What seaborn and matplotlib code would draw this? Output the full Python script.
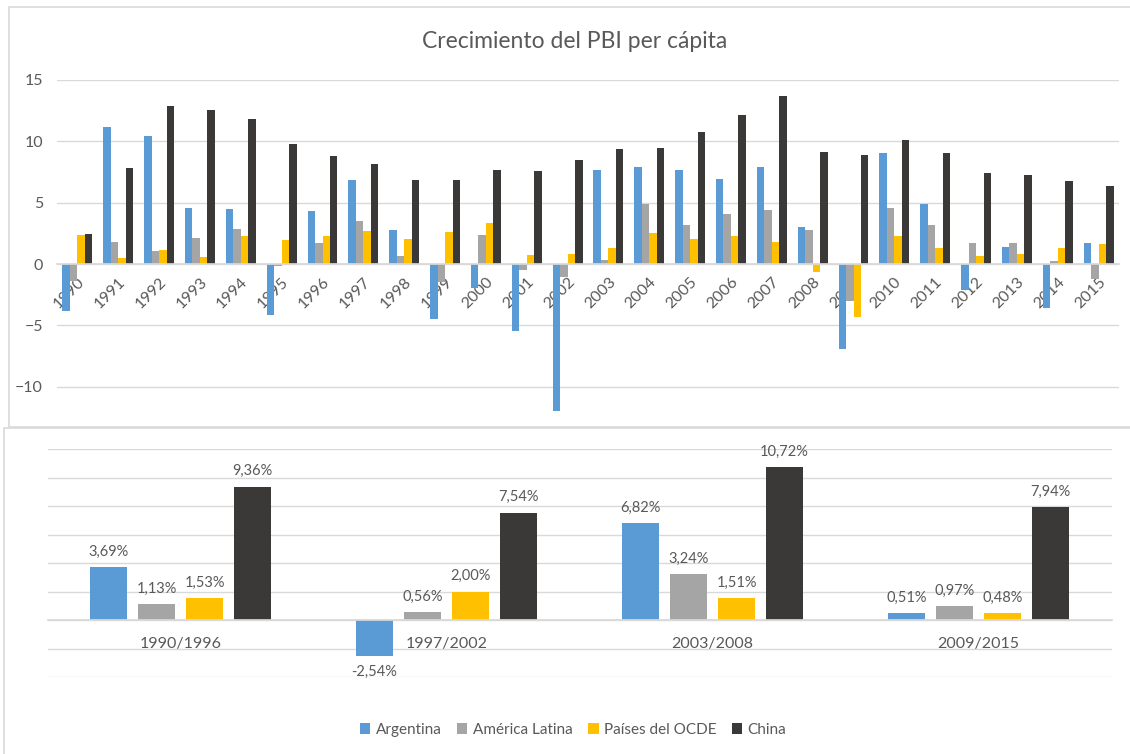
import pandas as pd
import matplotlib.pyplot as plt
import seaborn as sns
from matplotlib.patches import Rectangle

# datos: crecimiento anual del PBI per cápita (%)
anios = ["1990", "1991", "1992", "1993", "1994", "1995", "1996", "1997", "1998",
         "1999", "2000", "2001", "2002", "2003", "2004", "2005", "2006", "2007",
         "2008", "2009", "2010", "2011", "2012", "2013", "2014", "2015"]
series = ["Argentina", "América Latina", "Países del OCDE", "China"]
colores = ["#5B9BD5", "#A5A5A5", "#FFC000", "#3B3838"]

argentina = [-3.80, 11.17, 10.41, 4.56, 4.45, -4.12, 4.31, 6.89, 2.74, -4.48, -1.93, -5.48, -11.96,
             7.70, 7.87, 7.70, 6.97, 7.92, 3.04, -6.92, 9.06, 4.91, -2.12, 1.38, -3.61, 1.68]
america_latina = [-1.36, 1.82, 1.06, 2.12, 2.82, -0.14, 1.68, 3.47, 0.62, -1.44, 2.36, -0.49, -1.03,
                  0.33, 4.91, 3.17, 4.10, 4.39, 2.74, -2.98, 4.56, 3.20, 1.68, 1.68, 0.24, -1.25]
ocde = [2.36, 0.46, 1.14, 0.54, 2.28, 1.98, 2.28, 2.66, 2.03, 2.58, 3.34, 0.71, 0.84,
        1.30, 2.52, 2.03, 2.28, 1.82, -0.65, -4.29, 2.28, 1.30, 0.62, 0.79, 1.30, 1.60]
china = [2.44, 7.84, 12.88, 12.58, 11.85, 9.82, 8.81, 8.14, 6.89, 6.81, 7.70, 7.62, 8.46,
         9.36, 9.49, 10.79, 12.15, 13.67, 9.14, 8.90, 10.12, 9.06, 7.38, 7.24, 6.78, 6.40]

# promedios por período
periodos = ["1990/1996", "1997/2002", "2003/2008", "2009/2015"]
prom_argentina = [3.69, -2.54, 6.82, 0.51]
prom_america_latina = [1.13, 0.56, 3.24, 0.97]
prom_ocde = [1.53, 2.00, 1.51, 0.48]
prom_china = [9.36, 7.54, 10.72, 7.94]

anual = pd.DataFrame({
    "año": anios * 4,
    "serie": [s for s in series for _ in anios],
    "valor": argentina + america_latina + ocde + china,
})
prom_vals = [prom_argentina, prom_america_latina, prom_ocde, prom_china]
promedios = pd.DataFrame({
    "periodo": periodos * 4,
    "serie": [s for s in series for _ in periodos],
    "valor": sum(prom_vals, []),
})

sns.set_theme(style="white")
plt.rcParams["font.family"] = ["Lato", "DejaVu Sans"]
GRIS = "#595959"
GRID = "#D9D9D9"

W, H = 1130, 754
fig = plt.figure(figsize=(W / 100, H / 100), dpi=100)


def caja(x0, y0, x1, y1):
    return [x0 / W, 1 - y1 / H, (x1 - x0) / W, (y1 - y0) / H]


# =========================================================
# gráfico 1: crecimiento anual
# =========================================================
ax1 = fig.add_axes(caja(57, 80, 1119, 427))
sns.barplot(data=anual, x="año", y="valor", hue="serie", hue_order=series, palette=colores,
            saturation=1, width=0.734, errorbar=None, linewidth=0, legend=False, ax=ax1)
ax1.set_ylim(-13.28, 15)
ax1.set_yticks([-10, -5, 0, 5, 10, 15])
ax1.yaxis.grid(True, color=GRID, lw=1)
ax1.set_axisbelow(True)
for s in ["top", "right", "left"]:
    ax1.spines[s].set_visible(False)
ax1.spines["bottom"].set_position(("data", 0))
ax1.spines["bottom"].set_color(GRID)
ax1.tick_params(length=0, colors=GRIS, labelsize=11.5)
ax1.tick_params(axis="y", pad=10)
ax1.tick_params(axis="x", pad=8)
plt.setp(ax1.get_xticklabels(), rotation=45, ha="right", rotation_mode="anchor")
ax1.set_xlabel("")
ax1.set_ylabel("")

fig.text(575 / W, 1 - 42 / H, "Crecimiento del PBI per cápita", ha="center", va="center",
         fontsize=16.5, color=GRIS)

# =========================================================
# gráfico 2: promedios por período
# =========================================================
ax2 = fig.add_axes(caja(47.5, 449, 1111.5, 677))
sns.barplot(data=promedios, x="periodo", y="valor", hue="serie", hue_order=series, palette=colores,
            saturation=1, width=0.722, gap=0.21, errorbar=None, linewidth=0, ax=ax2)
ax2.set_ylim(-4, 12)
ax2.set_yticks(range(-4, 13, 2))
ax2.set_yticklabels([])
ax2.yaxis.grid(True, color=GRID, lw=1)
ax2.set_axisbelow(True)
for s in ["top", "right", "left"]:
    ax2.spines[s].set_visible(False)
ax2.spines["bottom"].set_position(("data", 0))
ax2.spines["bottom"].set_color(GRID)
ax2.tick_params(length=0, colors=GRIS, labelsize=11.5)
ax2.tick_params(axis="x", pad=12)
ax2.set_xlabel("")
ax2.set_ylabel("")

for cont, vals in zip(ax2.containers, prom_vals):
    etiquetas = [f"{v:.2f}".replace(".", ",") + "%" for v in vals]
    ax2.bar_label(cont, labels=etiquetas, padding=6, fontsize=10.5, color=GRIS)

handles, labels = ax2.get_legend_handles_labels()
ax2.get_legend().remove()
fig.legend(handles, labels, loc="center", bbox_to_anchor=(573 / W, 1 - 730 / H), ncol=4,
           frameon=False, fontsize=11, handlelength=0.7, handleheight=0.7,
           handletextpad=0.35, columnspacing=1.0, labelcolor=GRIS)

# marcos de los dos gráficos
fig.add_artist(Rectangle((9 / W, 1 - 427 / H), 1130 / W, 420 / H, transform=fig.transFigure,
                         fill=False, edgecolor=GRID, lw=1.2))
fig.add_artist(Rectangle((3.5 / W, -0.05), 1130 / W, 1 - 428 / H + 0.05, transform=fig.transFigure,
                         fill=False, edgecolor=GRID, lw=1.2))

fig.savefig("out.png", dpi=100)
